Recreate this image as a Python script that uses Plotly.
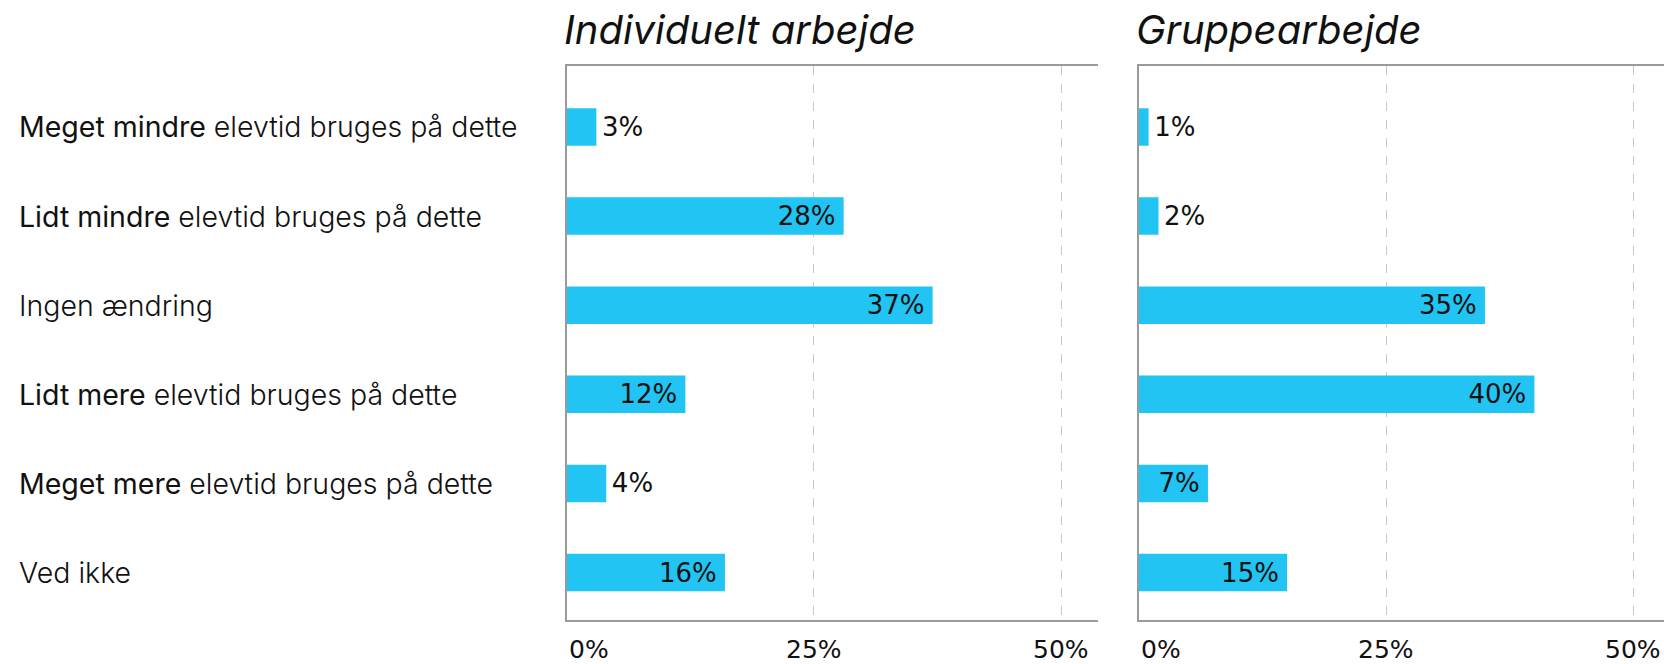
import plotly.graph_objects as go

categories = [
    "Meget mindre elevtid bruges på dette",
    "Lidt mindre elevtid bruges på dette",
    "Ingen ændring",
    "Lidt mere elevtid bruges på dette",
    "Meget mere elevtid bruges på dette",
    "Ved ikke",
]
bold_parts = ["Meget mindre", "Lidt mindre", "", "Lidt mere", "Meget mere", ""]
individuelt = [3, 28, 37, 12, 4, 16]
gruppe = [1, 2, 35, 40, 7, 15]
panel_titles = ["Individuelt arbejde", "Gruppearbejde"]
tick_vals = [0, 25, 50]
tick_text = ["0%", "25%", "50%"]

BAR = "#21c4f3"
W, H = 1664, 664
NUM_FONT = "DejaVu Sans"
LABEL_FONT = "Inter"

fig = go.Figure()

def add_panel(vals, xa, ya):
    pos = ["outside" if v < 6 else "inside" for v in vals]
    texts = [("\u200a" + f"{v}%") if p == "outside" else (f"{v}%" + "\u2009")
             for v, p in zip(vals, pos)]
    tf = dict(family=NUM_FONT, size=26, color="#111")
    fig.add_trace(go.Bar(
        x=vals, y=categories, orientation="h",
        marker=dict(color=BAR, line=dict(width=0)),
        width=0.42,
        text=texts, textposition=pos,
        insidetextanchor="end", constraintext="none",
        textfont=tf, insidetextfont=tf, outsidetextfont=tf,
        cliponaxis=False, xaxis=xa, yaxis=ya, showlegend=False,
        hoverinfo="skip",
    ))

add_panel(individuelt, "x", "y")
add_panel(gruppe, "x2", "y2")

ydom = [1 - 619.8 / H, 1 - 65.8 / H]
yrange = [5.53, -0.686]
axis_line = "#9a9a9a"
grid = "#c8c8c8"

common_x = dict(showline=True, mirror=True, linecolor=axis_line, linewidth=1.5,
                showgrid=True, gridcolor=grid, griddash="dash", gridwidth=1.2,
                tickvals=tick_vals, showticklabels=False, zeroline=False, ticks="")
common_y = dict(showline=True, mirror=False, linecolor=axis_line, linewidth=1.5,
                showgrid=False, showticklabels=False, ticks="", range=yrange,
                type="category", categoryorder="array", categoryarray=categories)

x1_dom = [566.7 / W, 1098.4 / W]
x2_dom = [1138.7 / W, 1.0]
fig.update_layout(
    width=W, height=H,
    margin=dict(l=0, r=0, t=0, b=0),
    plot_bgcolor="white", paper_bgcolor="white",
    xaxis=dict(domain=x1_dom, range=[0, 53.76], anchor="y", **common_x),
    xaxis2=dict(domain=x2_dom, range=[0, 53.1], anchor="y2", **common_x),
    yaxis=dict(domain=ydom, anchor="x", **common_y),
    yaxis2=dict(domain=ydom, anchor="x2", **common_y),
)

# category labels (left aligned)
for cat, b in zip(categories, bold_parts):
    if b:
        rest = cat[len(b):]
        txt = f"<span style='font-weight:440'>{b}</span>{rest}"
    else:
        txt = cat
    fig.add_annotation(
        xref="paper", yref="y", x=17 / W, y=cat, text=txt,
        xanchor="left", yanchor="middle", showarrow=False,
        font=dict(family=LABEL_FONT, size=28.5, color="#111", weight=300),
    )

# x tick labels
for xa in ["x", "x2"]:
    for v, t in zip(tick_vals, tick_text):
        fig.add_annotation(
            xref=xa, yref="paper", x=v, y=1 - 649 / H, text=t,
            xanchor="left" if v == 0 else "center", yanchor="middle",
            showarrow=False,
            font=dict(family=NUM_FONT, size=25, color="#111"),
        )

# panel titles
for dom, title in zip([x1_dom, x2_dom], panel_titles):
    fig.add_annotation(
        xref="paper", yref="paper", x=dom[0] - 5 / W, y=1 - 29.7 / H, text=title,
        xanchor="left", yanchor="middle", showarrow=False,
        font=dict(family=LABEL_FONT, size=40, color="#111", style="italic", weight=400),
    )

fig.write_html("out.html", config={"displayModeBar": False},
               post_script="document.body.style.margin='0';document.body.style.overflow='hidden';")
